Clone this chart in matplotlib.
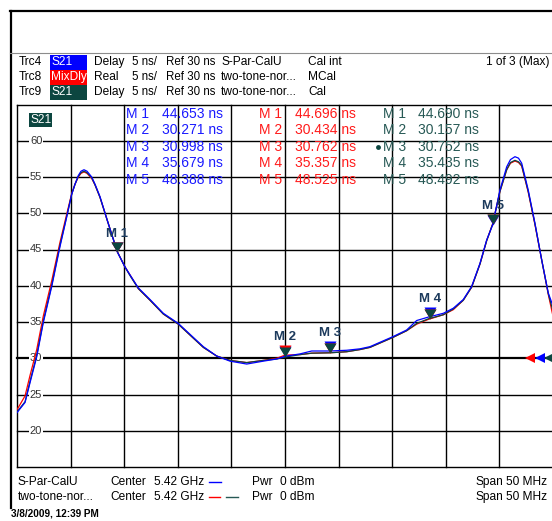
import numpy as np
import matplotlib
matplotlib.use('Agg')
import matplotlib.pyplot as plt
from matplotlib.patches import Rectangle
import matplotlib.transforms as mtransforms

plt.rcParams['font.family'] = ['Liberation Sans', 'DejaVu Sans']

# Frecuencia (GHz) y retardo de grupo (ns)
freq = [5.39500, 5.39575, 5.39621, 5.39684, 5.39745, 5.39824, 5.39901, 5.39964, 5.40010, 5.40041,
        5.40072, 5.40097, 5.40125, 5.40153, 5.40197, 5.40228, 5.40274, 5.40349, 5.40436, 5.40507,
        5.40554, 5.40632, 5.40741, 5.40865, 5.41005, 5.41114, 5.41238, 5.41363, 5.41487, 5.41643,
        5.41798, 5.41923, 5.42000, 5.42140, 5.42249, 5.42420, 5.42575, 5.42700, 5.42793, 5.42886,
        5.43010, 5.43135, 5.43228, 5.43337, 5.43477, 5.43570, 5.43663, 5.43741, 5.43819, 5.43881,
        5.43937, 5.44005, 5.44068, 5.44103, 5.44145, 5.44178, 5.44208, 5.44269, 5.44332, 5.44394,
        5.44456, 5.44500]

trc4_s21 = [22.5, 23.9, 26.6, 30.2, 34.9, 39.9, 45.4, 49.5, 52.6, 54.0,
            55.2, 55.8, 56.0, 55.8, 55.0, 54.0, 52.3, 48.7, 44.65, 42.6,
            41.5, 39.7, 38.1, 36.2, 34.8, 33.3, 31.6, 30.3, 29.6, 29.2,
            29.6, 29.9, 30.27, 30.6, 31.0, 31.0, 31.1, 31.3, 31.6, 32.2,
            33.0, 33.9, 35.2, 35.68, 36.2, 36.9, 38.1, 39.9, 43.1, 46.3,
            48.39, 53.2, 56.4, 57.4, 57.8, 57.6, 56.9, 53.2, 48.6, 43.6,
            39.0, 37.2]

trc8_mixdly = [22.9, 24.8, 27.6, 31.2, 35.8, 40.7, 46.0, 49.9, 52.7, 54.0,
               55.0, 55.5, 55.7, 55.5, 54.8, 53.9, 52.2, 48.7, 44.70, 42.6,
               41.5, 39.6, 38.0, 36.1, 34.7, 33.2, 31.5, 30.3, 29.7, 29.4,
               29.7, 30.0, 30.43, 30.5, 30.7, 30.76, 30.9, 31.2, 31.5, 32.1,
               32.9, 33.8, 34.7, 35.36, 36.0, 36.7, 38.0, 39.8, 43.0, 46.2,
               48.53, 53.0, 56.0, 56.9, 57.2, 57.0, 56.5, 52.9, 48.4, 43.6,
               38.8, 35.8]

trc9_s21 = [22.6, 24.0, 26.8, 30.4, 35.1, 40.1, 45.6, 49.6, 52.6, 54.0,
            55.1, 55.6, 55.8, 55.6, 54.9, 53.9, 52.2, 48.7, 44.69, 42.6,
            41.4, 39.6, 38.0, 36.1, 34.7, 33.2, 31.5, 30.3, 29.7, 29.4,
            29.7, 29.9, 30.16, 30.5, 30.7, 30.75, 30.9, 31.2, 31.5, 32.1,
            32.9, 33.8, 34.8, 35.44, 36.0, 36.8, 38.0, 39.8, 43.0, 46.2,
            48.49, 53.0, 56.0, 57.0, 57.3, 57.1, 56.6, 53.0, 48.5, 43.6,
            38.9, 36.5]

# Marcadores
mk_names = ['M 1', 'M 2', 'M 3', 'M 4', 'M 5']
mk_freq = [5.40436, 5.42000, 5.42420, 5.43352, 5.43937]
mk_trc4 = [44.653, 30.271, 30.998, 35.679, 48.388]
mk_trc8 = [44.696, 30.434, 30.762, 35.357, 48.525]
mk_trc9 = [44.690, 30.157, 30.752, 35.435, 48.492]

y_ticks = [60, 55, 50, 45, 40, 35, 30, 25, 20]

BLUE = '#0000ff'
RED = '#ff0000'
TEAL = '#0c4640'
TEAL_TXT = '#275955'
NAVY = '#1c3a5c'

W, H = 552, 521
fig = plt.figure(figsize=(W / 100, H / 100), dpi=100)
fig.patch.set_facecolor('white')

# area del diagrama
x0, x1, y0, y1 = 17, 553, 104.5, 467
ax = fig.add_axes([x0 / W, 1 - y1 / H, (x1 - x0) / W, (y1 - y0) / H])
ax.set_xlim(5.395, 5.445)
ax.set_ylim(15, 65)
ax.axis('off')

for f in np.arange(5.395, 5.4451, 0.005):
    ax.axvline(f, color='black', lw=1.0, zorder=1, clip_on=False)
for v in range(15, 66, 5):
    ax.axhline(v, color='black', lw=1.6 if v == 30 else 1.0, zorder=1, clip_on=False)

for v in y_ticks:
    ax.text(5.395 + 0.00178, v, str(v), ha='center', va='center', fontsize=8,
            color='#333333', zorder=2,
            bbox=dict(facecolor='white', edgecolor='none', pad=0.6))

ax.plot(freq, trc8_mixdly, color=RED, lw=0.9, zorder=3)
ax.plot(freq, trc9_s21, color=TEAL, lw=0.9, zorder=3)
ax.plot(freq, trc4_s21, color=BLUE, lw=0.9, zorder=3)

tri = [(0, 0), (-0.6, 1), (0.6, 1), (0, 0)]
ax.plot(mk_freq, mk_trc4, linestyle='none', marker=tri, ms=14.4, color=BLUE, mew=0, zorder=4)
ax.plot(mk_freq, mk_trc8, linestyle='none', marker=tri, ms=14.4, color=RED, mew=0, zorder=4)
ax.plot(mk_freq, mk_trc9, linestyle='none', marker=tri, ms=14.4, color=TEAL, mew=0, zorder=5)
for i, name in enumerate(mk_names):
    top = max(mk_trc4[i], mk_trc8[i], mk_trc9[i])
    ax.annotate(name, (mk_freq[i], top), xytext=(0, 8.5), textcoords='offset points',
                ha='center', va='bottom', fontsize=9.5, fontweight='bold',
                color=NAVY, zorder=6)

# flechas de nivel de referencia
bt = mtransforms.blended_transform_factory(ax.transAxes, ax.transData)
for xa, c in [(0.958, RED), (0.975, BLUE), (0.992, TEAL)]:
    ax.plot([xa], [30], marker='<', ms=7, color=c, mew=0, transform=bt,
            clip_on=False, zorder=6)

# capa de textos en pixeles
ov = fig.add_axes([0, 0, 1, 1], zorder=5)
ov.set_xlim(0, W)
ov.set_ylim(H, 0)
ov.axis('off')
ov.patch.set_alpha(0)

ov.plot([10, W], [11, 11], color='black', lw=1.6)
ov.plot([10.5, 10.5], [11, 508], color='black', lw=1.6)
ov.plot([10, W], [53, 53], color='#8c8c8c', lw=0.8)

fs = 8.6
rows = [62, 77, 92]
box_cols = [BLUE, RED, TEAL]
box_txt = ['S21', 'MixDly', 'S21']
for yy, c, t in zip(rows, box_cols, box_txt):
    ov.add_patch(Rectangle((50, yy - 7.5), 37, 15, color=c, lw=0))
    ov.text(51.5, yy, t, color='white', fontsize=fs, va='center')
for yy, trc, fmt, src, cal in zip(rows, ['Trc4', 'Trc8', 'Trc9'],
                                  ['Delay', 'Real', 'Delay'],
                                  ['S-Par-CalU', 'two-tone-nor...', 'two-tone-nor...'],
                                  ['Cal int', 'MCal', 'Cal']):
    ov.text(18.5, yy, trc, fontsize=fs, va='center')
    ov.text(94, yy, fmt, fontsize=fs, va='center')
    ov.text(132, yy, '5 ns/', fontsize=8.3, va='center')
    ov.text(165.5, yy, 'Ref 30 ns', fontsize=8.3, va='center')
    ov.text(221, yy, src, fontsize=fs, va='center')
    ov.text(308, yy, cal, fontsize=fs, va='center')
ov.text(550, 62, '1 of 3 (Max)', fontsize=fs, va='center', ha='right')

ov.add_patch(Rectangle((29, 113), 23, 14, color=TEAL, lw=0))
ov.text(30.5, 120, 'S21', color='white', fontsize=fs, va='center')

# tabla de marcadores
mrows = [113.5, 130, 146.7, 163.3, 180]
for col, vals, c in [((126, 162), mk_trc4, '#1a1aff'),
                     ((259, 295), mk_trc8, '#ff1a1a'),
                     ((383, 418), mk_trc9, TEAL_TXT)]:
    for yy, n, v in zip(mrows, mk_names, vals):
        ov.text(col[0], yy, n, color=c, fontsize=10, va='center')
        ov.text(col[1], yy, f'{v:.3f} ns', color=c, fontsize=10, va='center')
ov.plot([378], [147], marker='o', ms=3.5, color=TEAL, mew=0)

# pie
for yy, src in zip([482, 497], ['S-Par-CalU', 'two-tone-nor...']):
    ov.text(18, yy, src, fontsize=fs, va='center')
    ov.text(110, yy, 'Center', fontsize=fs, va='center')
    ov.text(153.5, yy, '5.42 GHz', fontsize=fs, va='center')
    ov.text(252, yy, 'Pwr', fontsize=fs, va='center')
    ov.text(280.5, yy, '0 dBm', fontsize=fs, va='center')
    ov.text(475, yy, 'Span', fontsize=fs, va='center')
    ov.text(505.5, yy, '50 MHz', fontsize=fs, va='center')
ov.plot([209, 221], [482, 482], color=BLUE, lw=1)
ov.plot([209, 220], [497, 497], color=RED, lw=1)
ov.plot([226, 238], [497, 497], color=TEAL_TXT, lw=1)
ov.text(11, 514, '3/8/2009, 12:39 PM', fontsize=7.2, fontweight='bold', va='center')

fig.savefig('out.png', dpi=100)
